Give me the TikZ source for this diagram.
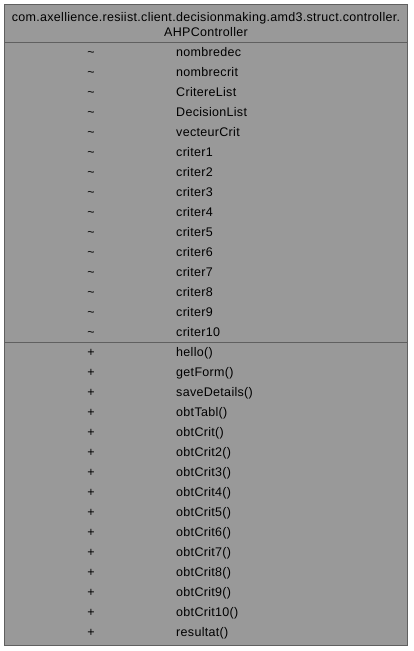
\documentclass[tikz,border=0pt]{standalone}
\usepackage{fontspec}
\setmainfont[LetterSpace=2.5]{Liberation Sans}
\usetikzlibrary{positioning,calc}
\definecolor{cf}{RGB}{153,153,153}
\definecolor{cl}{RGB}{96,96,96}
\tikzset{cls/.style={draw=cl,fill=cf,line width=1pt,inner sep=0pt,minimum width=403pt,minimum height=641pt},
 sep/.style={draw=cl,line width=1pt},
 vis/.style={inner sep=0pt,anchor=base},
 mem/.style={inner sep=0pt,anchor=base west},
 ttl/.style={inner sep=0pt,anchor=base},
 every node/.style={font=\fontsize{12.5}{14}\selectfont}}

\begin{document}
\begin{tikzpicture}[x=1pt,y=-1pt]
\useasboundingbox (0,0) rectangle (413,651);
\node[cls] (box) at (206,325) {};
\draw[sep] (box.west |- 0,42) -- (box.east |- 0,42);
\draw[sep] (box.west |- 0,342) -- (box.east |- 0,342);
% title
\node[ttl] (t1) at (206,21) {com.axellience.resiist.client.decisionmaking.amd3.struct.controller.};
\node[ttl] (t2) at (206,36) {AHPController};
% attributes
\node[vis] (v1) at (91,56) {\textasciitilde};   \node[mem] (a1) at (176,56) {nombredec};
\node[vis] (v2) at (91,76) {\textasciitilde};   \node[mem] (a2) at (176,76) {nombrecrit};
\node[vis] (v3) at (91,96) {\textasciitilde};   \node[mem] (a3) at (176,96) {CritereList};
\node[vis] (v4) at (91,116) {\textasciitilde};  \node[mem] (a4) at (176,116) {DecisionList};
\node[vis] (v5) at (91,136) {\textasciitilde};  \node[mem] (a5) at (176,136) {vecteurCrit};
\node[vis] (v6) at (91,156) {\textasciitilde};  \node[mem] (a6) at (176,156) {criter1};
\node[vis] (v7) at (91,176) {\textasciitilde};  \node[mem] (a7) at (176,176) {criter2};
\node[vis] (v8) at (91,196) {\textasciitilde};  \node[mem] (a8) at (176,196) {criter3};
\node[vis] (v9) at (91,216) {\textasciitilde};  \node[mem] (a9) at (176,216) {criter4};
\node[vis] (v10) at (91,236) {\textasciitilde}; \node[mem] (a10) at (176,236) {criter5};
\node[vis] (v11) at (91,256) {\textasciitilde}; \node[mem] (a11) at (176,256) {criter6};
\node[vis] (v12) at (91,276) {\textasciitilde}; \node[mem] (a12) at (176,276) {criter7};
\node[vis] (v13) at (91,296) {\textasciitilde}; \node[mem] (a13) at (176,296) {criter8};
\node[vis] (v14) at (91,316) {\textasciitilde}; \node[mem] (a14) at (176,316) {criter9};
\node[vis] (v15) at (91,336) {\textasciitilde}; \node[mem] (a15) at (176,336) {criter10};
% methods
\node[vis] (p1) at (91,356) {+};  \node[mem] (m1) at (176,356) {hello()};
\node[vis] (p2) at (91,376) {+};  \node[mem] (m2) at (176,376) {getForm()};
\node[vis] (p3) at (91,396) {+};  \node[mem] (m3) at (176,396) {saveDetails()};
\node[vis] (p4) at (91,416) {+};  \node[mem] (m4) at (176,416) {obtTabl()};
\node[vis] (p5) at (91,436) {+};  \node[mem] (m5) at (176,436) {obtCrit()};
\node[vis] (p6) at (91,456) {+};  \node[mem] (m6) at (176,456) {obtCrit2()};
\node[vis] (p7) at (91,476) {+};  \node[mem] (m7) at (176,476) {obtCrit3()};
\node[vis] (p8) at (91,496) {+};  \node[mem] (m8) at (176,496) {obtCrit4()};
\node[vis] (p9) at (91,516) {+};  \node[mem] (m9) at (176,516) {obtCrit5()};
\node[vis] (p10) at (91,536) {+}; \node[mem] (m10) at (176,536) {obtCrit6()};
\node[vis] (p11) at (91,556) {+}; \node[mem] (m11) at (176,556) {obtCrit7()};
\node[vis] (p12) at (91,576) {+}; \node[mem] (m12) at (176,576) {obtCrit8()};
\node[vis] (p13) at (91,596) {+}; \node[mem] (m13) at (176,596) {obtCrit9()};
\node[vis] (p14) at (91,616) {+}; \node[mem] (m14) at (176,616) {obtCrit10()};
\node[vis] (p15) at (91,636) {+}; \node[mem] (m15) at (176,636) {resultat()};
\end{tikzpicture}
\end{document}
